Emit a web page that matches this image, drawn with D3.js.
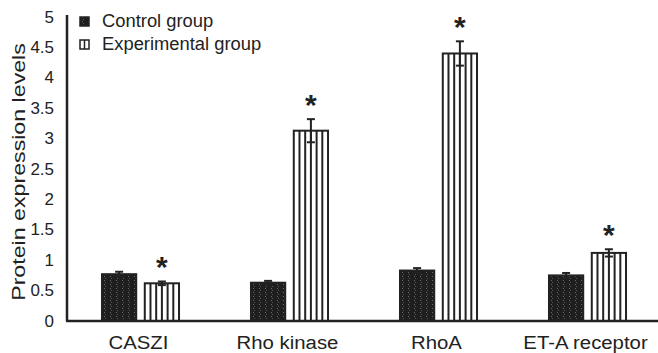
<!DOCTYPE html>
<html>
<head>
<meta charset="utf-8">
<script src="https://cdn.jsdelivr.net/npm/d3@7"></script>
<style>
  body { margin: 0; background: #fff; }
  text { font-family: "Liberation Sans", Arial, sans-serif; fill: #222; }
</style>
</head>
<body>
<script>
// data
let categories = ["CASZI", "Rho kinase", "RhoA", "ET-A receptor"];
let groups = ["Control group", "Experimental group"];
let controlValues = [0.77, 0.63, 0.83, 0.75];
let controlErrors = [0.04, 0.03, 0.04, 0.04];
let experimentalValues = [0.62, 3.13, 4.40, 1.12];
let experimentalErrors = [0.03, 0.19, 0.20, 0.06];
let significant = [true, true, true, true];
let yTicks = [0, 0.5, 1, 1.5, 2, 2.5, 3, 3.5, 4, 4.5, 5];

let svg = d3.select('body')
  .append('svg')
  .attr("width", 658)
  .attr("height", 353);

let ink = "#222";

// stretch text horizontally (the original font is wider than Arial)
function stretch(sel, k) {
  sel.each(function () {
    let L = this.getComputedTextLength();
    d3.select(this).attr('textLength', L * k).attr('lengthAdjust', 'spacingAndGlyphs');
  });
}

let defs = svg.append('defs');
let pat = defs.append('pattern')
  .attr('id', 'dark')
  .attr('patternUnits', 'userSpaceOnUse')
  .attr('width', 6)
  .attr('height', 4);
pat.append('rect').attr('width', 6).attr('height', 4).attr('fill', '#1e1e1e');
pat.append('rect').attr('x', 2).attr('y', 0).attr('width', 1).attr('height', 1).attr('fill', '#6a6a6a');
pat.append('rect').attr('x', 3).attr('y', 2).attr('width', 1).attr('height', 1).attr('fill', '#555');

let y = d3.scaleLinear().domain([0, 5]).range([321, 17]);
let x = d3.scaleBand().domain(categories).range([66, 662]).paddingInner(0.483).paddingOuter(0.2415);
let xs = d3.scaleBand().domain(groups).range([0, x.bandwidth()]).paddingInner(0.2);

let rows = categories.map((c, i) => ({
  cat: c,
  bars: [
    { g: groups[0], v: controlValues[i], e: controlErrors[i] },
    { g: groups[1], v: experimentalValues[i], e: experimentalErrors[i] }
  ],
  sig: significant[i]
}));

// y axis
let yAxis = svg.append('g')
  .attr('transform', 'translate(67,0)')
  .call(d3.axisLeft(y).tickValues(yTicks).tickSize(0).tickPadding(13).tickFormat(d => d));
yAxis.select('.domain').remove();
yAxis.selectAll('text')
  .style('font-family', '"Liberation Sans", Arial, sans-serif')
  .style('font-size', '16px')
  .attr('fill', ink)
  .call(stretch, 1.06);

svg.append('text')
  .attr('transform', 'translate(25,172) rotate(-90)')
  .attr('text-anchor', 'middle')
  .style('font-size', '19px')
  .text('Protein expression levels')
  .call(stretch, 1.22);

// bars
let grp = svg.selectAll('.grp')
  .data(rows)
  .enter().append('g')
  .attr('transform', d => `translate(${x(d.cat)},0)`);

grp.selectAll('.bar')
  .data(d => d.bars)
  .enter().append('rect')
  .attr('x', d => xs(d.g))
  .attr('y', d => y(d.v))
  .attr('width', xs.bandwidth())
  .attr('height', d => y(0) - y(d.v))
  .attr('fill', d => d.g === groups[0] ? 'url(#dark)' : '#fff')
  .attr('stroke', ink)
  .attr('stroke-width', 2);

// vertical stripes on experimental bars
grp.each(function (d) {
  let b = d.bars[1];
  let x0 = xs(b.g);
  let w = xs.bandwidth();
  d3.select(this).selectAll('.stripe')
    .data(d3.range(1, 6))
    .enter().append('line')
    .attr('x1', k => x0 + k * w / 6)
    .attr('x2', k => x0 + k * w / 6)
    .attr('y1', y(b.v))
    .attr('y2', y(0))
    .attr('stroke', ink)
    .attr('stroke-width', 2);
});

// error bars
let err = grp.selectAll('.err')
  .data(d => d.bars)
  .enter().append('g')
  .attr('transform', d => `translate(${xs(d.g) + xs.bandwidth() / 2},0)`);
err.append('line')
  .attr('y1', d => y(d.v - d.e))
  .attr('y2', d => y(d.v + d.e))
  .attr('stroke', ink)
  .attr('stroke-width', 2);
err.selectAll('.cap')
  .data(d => [d.v + d.e, d.v - d.e])
  .enter().append('line')
  .attr('x1', -4).attr('x2', 4)
  .attr('y1', v => y(v)).attr('y2', v => y(v))
  .attr('stroke', ink)
  .attr('stroke-width', 2);

// significance marks
grp.filter(d => d.sig).append('text')
  .attr('x', d => xs(groups[1]) + xs.bandwidth() / 2)
  .attr('y', d => y(d.bars[1].v + d.bars[1].e) - 4)
  .attr('text-anchor', 'middle')
  .style('font-size', '30px')
  .style('font-weight', 'bold')
  .text('*');

// axis lines
svg.append('line')
  .attr('x1', 66).attr('x2', 658)
  .attr('y1', y(0)).attr('y2', y(0))
  .attr('stroke', ink).attr('stroke-width', 2.5);
svg.append('line')
  .attr('x1', 67).attr('x2', 67)
  .attr('y1', 15).attr('y2', y(0))
  .attr('stroke', ink).attr('stroke-width', 2.5);

svg.selectAll('.cat')
  .data(categories)
  .enter().append('text')
  .attr('x', d => x(d) + x.bandwidth() / 2 - 2)
  .attr('y', 349)
  .attr('text-anchor', 'middle')
  .style('font-size', '18px')
  .text(d => d)
  .call(stretch, 1.13);

// legend
let leg = svg.selectAll('.leg')
  .data(groups)
  .enter().append('g')
  .attr('transform', (d, i) => `translate(80,${17 + i * 23})`);
leg.append('rect')
  .attr('width', 9).attr('height', 9)
  .attr('fill', (d, i) => i === 0 ? 'url(#dark)' : '#fff')
  .attr('stroke', ink).attr('stroke-width', 1.5);
leg.filter((d, i) => i === 1).append('line')
  .attr('x1', 4.5).attr('x2', 4.5).attr('y1', 0).attr('y2', 9)
  .attr('stroke', ink).attr('stroke-width', 1.5);
leg.append('text')
  .attr('x', 22).attr('y', 10)
  .style('font-size', '18px')
  .text(d => d)
  .call(stretch, 1.02);
</script>
</body>
</html>
